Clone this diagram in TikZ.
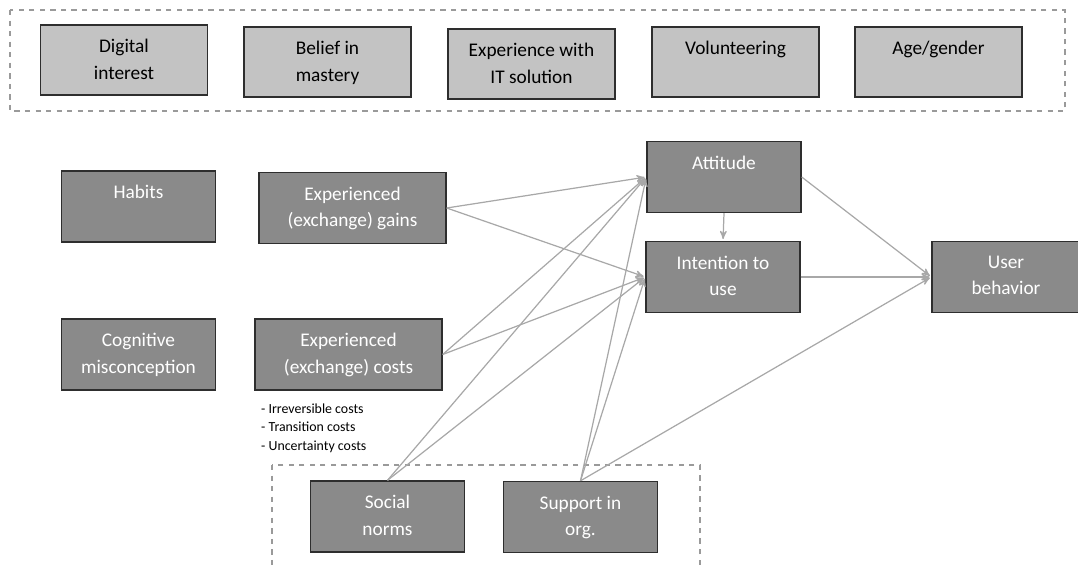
\documentclass[tikz,border=0pt]{standalone}
\usepackage{fontspec}
\setmainfont{Carlito}
\usetikzlibrary{arrows}
\definecolor{boxlight}{HTML}{C3C3C3}
\definecolor{boxdark}{HTML}{8A8A8A}
\definecolor{boxline}{HTML}{2E2E2E}
\definecolor{arrowgray}{HTML}{A8A8A8}
\definecolor{dashgray}{HTML}{9A9A9A}
\begin{document}
\begin{tikzpicture}[x=0.02cm,y=-0.02cm,>=stealth',
  every node/.style={font=\fontsize{11}{15.2}\selectfont},
  lbox/.style={draw=boxline,line width=0.8pt,fill=boxlight,minimum width=3.34cm,minimum height=1.4cm,inner sep=0pt,
    label={[anchor=north,yshift=-5pt,align=center,text=black]north:{#1}}},
  dbox/.style={draw=boxline,line width=0.8pt,fill=boxdark,minimum width=3.08cm,minimum height=1.42cm,inner sep=0pt,
    label={[anchor=north,yshift=-5pt,align=center,text=white]north:{#1}}},
  group/.style={draw=dashgray,dashed,line width=0.6pt},
  link/.style={->,color=arrowgray,line width=0.7pt,shorten >=1pt}]
\useasboundingbox (0,0) rectangle (1078,568);
% moderators
\draw[group] (10,10) rectangle (1065,111);
\node[lbox={Digital\\interest}] (dig) at (124,60) {};
\node[lbox={Belief in\\mastery}] (bel) at (327.5,62) {};
\node[lbox={Experience with\\IT solution}] (exp) at (531.5,64) {};
\node[lbox={Volunteering}] (vol) at (735.5,62) {};
\node[lbox={Age/gender}] (age) at (938.5,62) {};
% model
\node[dbox={Habits}] (hab) at (138.5,206.5) {};
\node[dbox={Experienced\\(exchange) gains},minimum width=3.74cm] (gain) at (352.5,208) {};
\node[dbox={Cognitive\\misconception}] (cog) at (138.5,354.5) {};
\node[dbox={Experienced\\(exchange) costs},minimum width=3.74cm] (cost) at (348.5,354.5) {};
\node[anchor=north west,align=left,font=\fontsize{7.9}{10.3}\selectfont] (costlist) at (255,398) {- Irreversible costs\\- Transition costs\\- Uncertainty costs};
\node[dbox={Attitude}] (att) at (724,177) {};
\node[dbox={Intention to\\use}] (int) at (723,277) {};
\node[dbox={User\\behavior},minimum width=2.96cm] (ub) at (1006,277) {};
% context
\draw[group] (272,465) rectangle (700,575);
\node[dbox={Social\\norms}] (soc) at (387.5,516.5) {};
\node[dbox={Support in\\org.}] (sup) at (580.5,517) {};
\path[link] (gain.east) edge (att.west)
(gain.east) edge (int.west)
(cost.east) edge (att.west)
(cost.east) edge (int.west)
(soc.north) edge (att.west)
(soc.north) edge (int.west)
(sup.north) edge (att.west)
(sup.north) edge (int.west)
(sup.north) edge (ub.west)
(att.south) edge (int.north)
(att.east) edge (ub.west)
(int.east) edge (ub.west);
\end{tikzpicture}
\end{document}
